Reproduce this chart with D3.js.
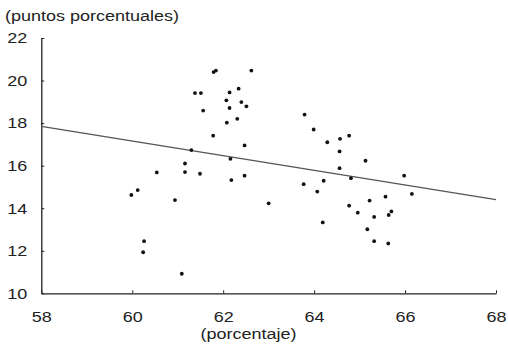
<!DOCTYPE html>
<html>
<head>
<meta charset="utf-8">
<script src="https://cdn.jsdelivr.net/npm/d3@7"></script>
<style>
  body { margin: 0; background: #fff; }
  svg { display: block; font-family: "Liberation Sans", Arial, sans-serif; }
</style>
</head>
<body>
<div id="chart-wrapper"></div>
<script>
// scatter values
const xVals = [61.79, 61.84, 62.62, 61.38, 61.51, 62.14, 62.34, 62.07, 62.40, 62.51,
               62.14, 61.56, 62.31, 62.08, 61.78, 62.47, 61.30, 62.16, 61.16, 60.54,
               61.16, 61.49, 62.18, 62.47, 60.12, 59.98, 60.94, 60.26, 60.24, 61.09,
               63.00, 63.79, 63.99, 64.29, 64.57, 64.77, 64.56, 65.13, 64.56, 64.81,
               64.21, 63.77, 65.98, 64.07, 66.15, 65.22, 65.57, 64.77, 64.96, 65.32,
               65.70, 65.64, 64.19, 65.17, 65.32, 65.63];
const yVals = [20.40, 20.47, 20.47, 19.41, 19.41, 19.44, 19.62, 19.07, 18.99, 18.79,
               18.71, 18.59, 18.20, 18.02, 17.41, 16.95, 16.73, 16.32, 16.10, 15.68,
               15.70, 15.62, 15.32, 15.53, 14.85, 14.62, 14.38, 12.45, 11.93, 10.92,
               14.23, 18.40, 17.70, 17.10, 17.26, 17.41, 16.67, 16.23, 15.88, 15.41,
               15.29, 15.13, 15.53, 14.78, 14.67, 14.36, 14.54, 14.12, 13.79, 13.59,
               13.85, 13.68, 13.33, 13.01, 12.45, 12.34];
// fitted line end points
const trendX = [58, 68];
const trendY = [17.85, 14.40];

const xTicks = [58, 60, 62, 64, 66, 68];
const yTicks = [10, 12, 14, 16, 18, 20, 22];

const yTitle = "(puntos porcentuales)";
const xTitle = "(porcentaje)";

const width = 508, height = 345;
const margin = {left: 41.3, right: 12, top: 38, bottom: 51.7};
const fontSize = 15;
const stretch = "scale(1.2,1)"; // the reference type is a little wide

const svg = d3.select("#chart-wrapper")
    .append("svg")
    .attr("width", width)
    .attr("height", height);

const x = d3.scaleLinear().domain([58, 68]).range([margin.left, width - margin.right]);
const y = d3.scaleLinear().domain([10, 22]).range([height - margin.bottom, margin.top]);

// axes, ticks point inward
const xAxis = svg.append("g")
    .attr("transform", `translate(0,${y(10)})`)
    .call(d3.axisBottom(x).tickValues(xTicks).tickSizeInner(-3).tickSizeOuter(0).tickPadding(18));
const yAxis = svg.append("g")
    .attr("transform", `translate(${x(58)},0)`)
    .call(d3.axisLeft(y).tickValues(yTicks).tickSizeInner(-3).tickSizeOuter(0).tickPadding(11.7));

[xAxis, yAxis].forEach(a => {
    a.select(".domain").attr("stroke", "#222").attr("stroke-width", 1.3);
    a.selectAll(".tick line").attr("stroke", "#222").attr("stroke-width", 1);
    a.selectAll("text")
        .attr("font-size", fontSize).attr("fill", "#222")
        .attr("font-family", "Liberation Sans, Arial, sans-serif")
        .attr("transform", stretch);
});

// trend line
svg.append("line")
    .attr("x1", x(trendX[0])).attr("y1", y(trendY[0]))
    .attr("x2", x(trendX[1])).attr("y2", y(trendY[1]))
    .attr("stroke", "#555")
    .attr("stroke-width", 1.2);

// dots
svg.append("g")
    .selectAll("circle")
    .data(xVals.map((v, i) => [v, yVals[i]]))
    .join("circle")
    .attr("cx", d => x(d[0]))
    .attr("cy", d => y(d[1]))
    .attr("r", 1.9)
    .attr("fill", "#111");

svg.append("g")
    .attr("transform", "translate(5,21)")
    .append("text")
    .attr("transform", stretch)
    .attr("font-size", fontSize).attr("fill", "#222")
    .text(yTitle);

svg.append("g")
    .attr("transform", "translate(248.5,339)")
    .append("text")
    .attr("transform", stretch)
    .attr("text-anchor", "middle")
    .attr("font-size", fontSize).attr("fill", "#222")
    .text(xTitle);
</script>
</body>
</html>
